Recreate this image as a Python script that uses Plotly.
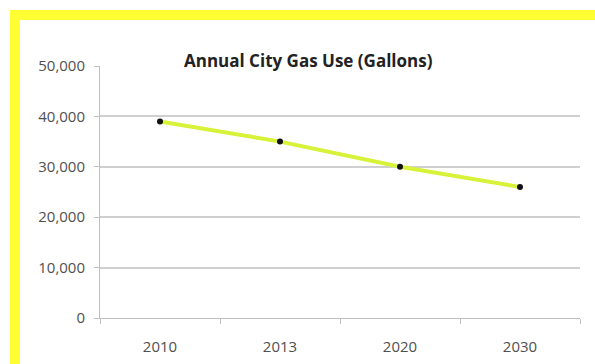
import plotly.graph_objects as go

years = ["2010", "2013", "2020", "2030"]
gallons = [39000, 35000, 30000, 26000]
y_ticks = [0, 10000, 20000, 30000, 40000, 50000]

L, R, T, B = 100, 15, 66, 46
W, H = 595, 364
pw, ph = W - L - R, H - T - B

def px(x):
    return (x - L) / pw

def py(y):
    return (H - B - y) / ph

fig = go.Figure()
fig.add_trace(go.Scatter(
    x=years, y=gallons, mode="lines+markers",
    line=dict(color="#d8f23a", width=4),
    marker=dict(color="#111111", size=6),
    showlegend=False,
))

yellow = "#ffff33"
fig.add_shape(type="rect", xref="paper", yref="paper",
              x0=px(10), x1=px(600), y0=py(20), y1=py(10),
              fillcolor=yellow, line=dict(width=0), layer="above")
fig.add_shape(type="rect", xref="paper", yref="paper",
              x0=px(10), x1=px(20), y0=py(370), y1=py(10),
              fillcolor=yellow, line=dict(width=0), layer="above")

fig.add_annotation(text="<b>Annual City Gas Use (Gallons)</b>",
                   xref="paper", yref="paper", x=px(308), y=py(47),
                   showarrow=False, font=dict(family="Open Sans", size=17, color="#222222"))

fig.update_layout(
    width=W, height=H,
    margin=dict(l=L, r=R, t=T, b=B),
    paper_bgcolor="white", plot_bgcolor="white",
    font=dict(family="Open Sans", size=15, color="#505050"),
)
fig.update_xaxes(
    type="category", range=[-0.5, 3.5], showgrid=False, showline=True,
    linecolor="#bfbfbf", linewidth=1, automargin=False,
    ticks="outside", tickson="boundaries", ticklen=5, tickcolor="#bfbfbf",
    ticklabelstandoff=15, zeroline=False,
)
fig.update_yaxes(
    range=[0, 50000], tickvals=y_ticks, tickformat=",",
    showgrid=True, gridcolor="#cfcfcf", gridwidth=1.5,
    showline=True, linecolor="#bfbfbf", linewidth=1, automargin=False,
    ticks="outside", ticklen=5, tickcolor="#bfbfbf", zeroline=False,
    ticklabelstandoff=6,
)

fig.write_html("out.html")
